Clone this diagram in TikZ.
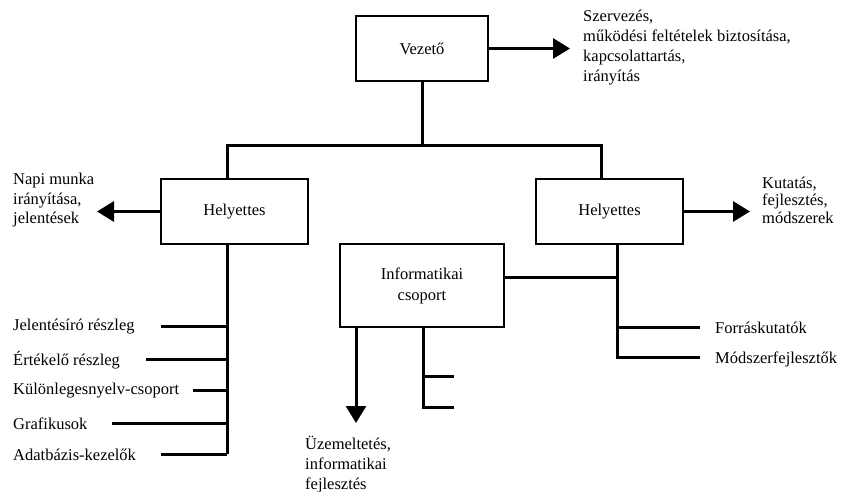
\documentclass[tikz,border=0pt]{standalone}
\usepackage{fontspec}
\setmainfont{Liberation Serif}
\usetikzlibrary{arrows.meta}
\begin{document}
\begin{tikzpicture}[x=1pt,y=-1pt,
    doboz/.style={draw,line width=1.2pt,inner sep=0pt,align=center,
      font=\fontsize{16.5}{21}\selectfont},
    vonal/.style={line width=3pt},
    nyil/.style={line width=3pt,-{Triangle[length=17pt,width=20pt]}},
    felirat/.style={anchor=west,inner sep=0pt,align=left,
      font=\fontsize{16.5}{20}\selectfont}]
\useasboundingbox (0,0) rectangle (849,492);
% dobozok
\node[doboz,minimum width=132pt,minimum height=65pt] (vezeto) at (422,48.5) {Vezető};
\node[doboz,minimum width=147pt,minimum height=65pt] (helyBal) at (234.5,211.5) {Helyettes};
\node[doboz,minimum width=147pt,minimum height=65pt] (helyJobb) at (609.5,211.5) {Helyettes};
\node[doboz,minimum width=164pt,minimum height=83pt] (info) at (422,285.5) {Informatikai\\csoport};
% feliratok
\node[felirat] (szerv) at (583,48) {Szervezés,\\működési feltételek biztosítása,\\kapcsolattartás,\\irányítás};
\node[felirat,font=\fontsize{16.5}{19.5}\selectfont] (napi) at (13,200.5) {Napi munka\\irányítása,\\jelentések};
\node[felirat,font=\fontsize{16.5}{17.5}\selectfont] (kutat) at (762,200) {Kutatás,\\fejlesztés,\\módszerek};
\node[felirat] (uzem) at (305,465) {Üzemeltetés,\\informatikai\\fejlesztés};
\node[felirat] (forras) at (715,328) {Forráskutatók};
\node[felirat] (modsz) at (715,359) {Módszerfejlesztők};
\node[felirat] (jel) at (13,327) {Jelentésíró részleg};
\node[felirat] (ert) at (13,360) {Értékelő részleg};
\node[felirat] (kul) at (13,391) {Különlegesnyelv-csoport};
\node[felirat] (graf) at (13,424) {Grafikusok};
\node[felirat] (adat) at (13,455) {Adatbázis-kezelők};
% pontok
\coordinate (bal) at (227,146);
\coordinate (jobb) at (601,146);
\coordinate (balAlj) at (227,454);
\coordinate (jobbGer) at (617,277);
\coordinate (jobbAlj) at (617,357);
\coordinate (infoGer) at (423,407);
% vezeto
\draw[vonal] (vezeto.south) -- (vezeto.south |- bal);
\draw[vonal] (bal |- helyBal.north) -- (bal) -- (jobb) -- (jobb |- helyJobb.north);
\draw[nyil] (vezeto.east) -- (570,48.5);
% helyettesek
\draw[nyil] (helyBal.west) -- (97,211.5);
\draw[nyil] (helyJobb.east) -- (750,211.5);
\draw[vonal] (bal |- helyBal.south) -- (balAlj);
\draw[vonal] (161,326) -- (227,326);
\draw[vonal] (146,359) -- (227,359);
\draw[vonal] (193,390) -- (227,390);
\draw[vonal] (112,423) -- (227,423);
\draw[vonal] (161,454) -- (balAlj);
% jobb oldal
\draw[vonal] (jobbGer |- helyJobb.south) -- (jobbAlj) -- (700,357);
\draw[vonal] (info.east |- jobbGer) -- (jobbGer);
\draw[vonal] (617,327) -- (700,327);
% informatika
\draw[nyil] ([xshift=-66pt]info.south) -- (356,423);
\draw[vonal] (infoGer |- info.south) -- (infoGer) -- (454,407);
\draw[vonal] (423,376) -- (454,376);
\end{tikzpicture}
\end{document}
